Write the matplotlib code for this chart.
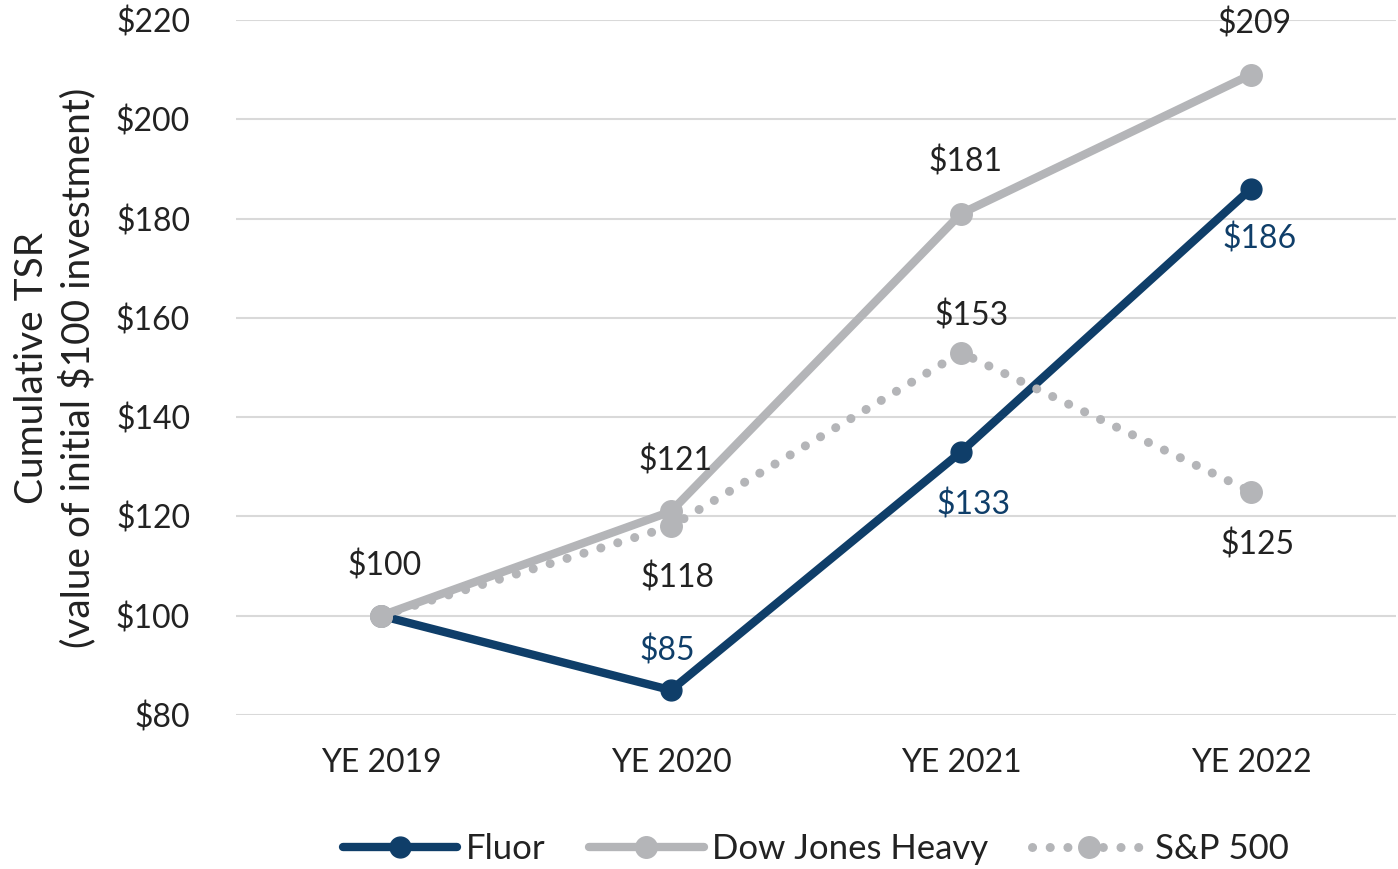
import matplotlib
matplotlib.use("Agg")
import matplotlib.pyplot as plt

plt.rcParams["font.family"] = ["Lato", "DejaVu Sans"]

# Data
years = ["YE 2019", "YE 2020", "YE 2021", "YE 2022"]
fluor = [100, 85, 133, 186]
dow_jones = [100, 121, 181, 209]
sp500 = [100, 118, 153, 125]

NAVY = "#0f3e69"
GRAY = "#b4b5b8"
TEXT = "#222222"

fig = plt.figure(figsize=(13.98, 8.69), dpi=100)
ax = fig.add_axes([0.1688, 0.1772, 0.8298, 0.7998])

x = list(range(len(years)))

ax.plot(x, fluor, color=NAVY, lw=6, marker="o", markersize=15,
        solid_capstyle="round", label="Fluor", zorder=3)
ax.plot(x, sp500, color=GRAY, lw=6.5, linestyle=(0, (0.01, 1.95)),
        dash_capstyle="round", marker="o", markersize=15.5, label="S&P 500", zorder=4)
ax.plot(x, dow_jones, color=GRAY, lw=6, marker="o", markersize=15.5,
        solid_capstyle="round", label="Dow Jones Heavy", zorder=5)

# Data labels: offsets in pixels (dx, dy) from the point
label_offsets = {
    "dow": [(4, 50), (4, 50), (4, 52), (4, 51)],
    "sp": [None, (6, -52), (11, 37), (7, -53)],
    "fluor": [None, (-4, 39), (12, -53), (9, -50)],
}
fs = 23

def put_labels(vals, offs, color):
    for i, (v, o) in enumerate(zip(vals, offs)):
        if o is None:
            continue
        ax.annotate(f"${v}", (i, v), xytext=(o[0] * 0.72, o[1] * 0.72),
                    textcoords="offset points", ha="center", va="center",
                    fontsize=fs, color=color, zorder=6)

put_labels(dow_jones, label_offsets["dow"], TEXT)
put_labels(sp500, label_offsets["sp"], TEXT)
put_labels(fluor, label_offsets["fluor"], NAVY)

ax.set_xlim(-0.5, 3.5)
ax.set_ylim(80, 220)
ax.set_yticks(range(80, 221, 20))
ax.set_yticklabels([f"${v}" for v in range(80, 221, 20)])
ax.set_xticks(x)
ax.set_xticklabels(years)
ax.tick_params(axis="both", length=0, labelsize=fs, colors=TEXT)
ax.tick_params(axis="y", pad=33)
ax.tick_params(axis="x", pad=24)
ax.grid(axis="y", color="#d9d9d9", lw=1.5)
ax.set_axisbelow(True)
for s in ax.spines.values():
    s.set_visible(False)

ax.set_ylabel("Cumulative TSR\n(value of initial $100 investment)",
              fontsize=28, color=TEXT, labelpad=14, linespacing=1.3)

handles, labels = ax.get_legend_handles_labels()
order = [0, 2, 1]
ax.legend([handles[i] for i in order], [labels[i] for i in order],
          loc="upper center", bbox_to_anchor=(0.5, -0.125), ncol=3,
          frameon=False, fontsize=25, handlelength=3.3, handletextpad=0.25,
          columnspacing=1.25, labelcolor=TEXT)

fig.savefig("out.png", dpi=100)
